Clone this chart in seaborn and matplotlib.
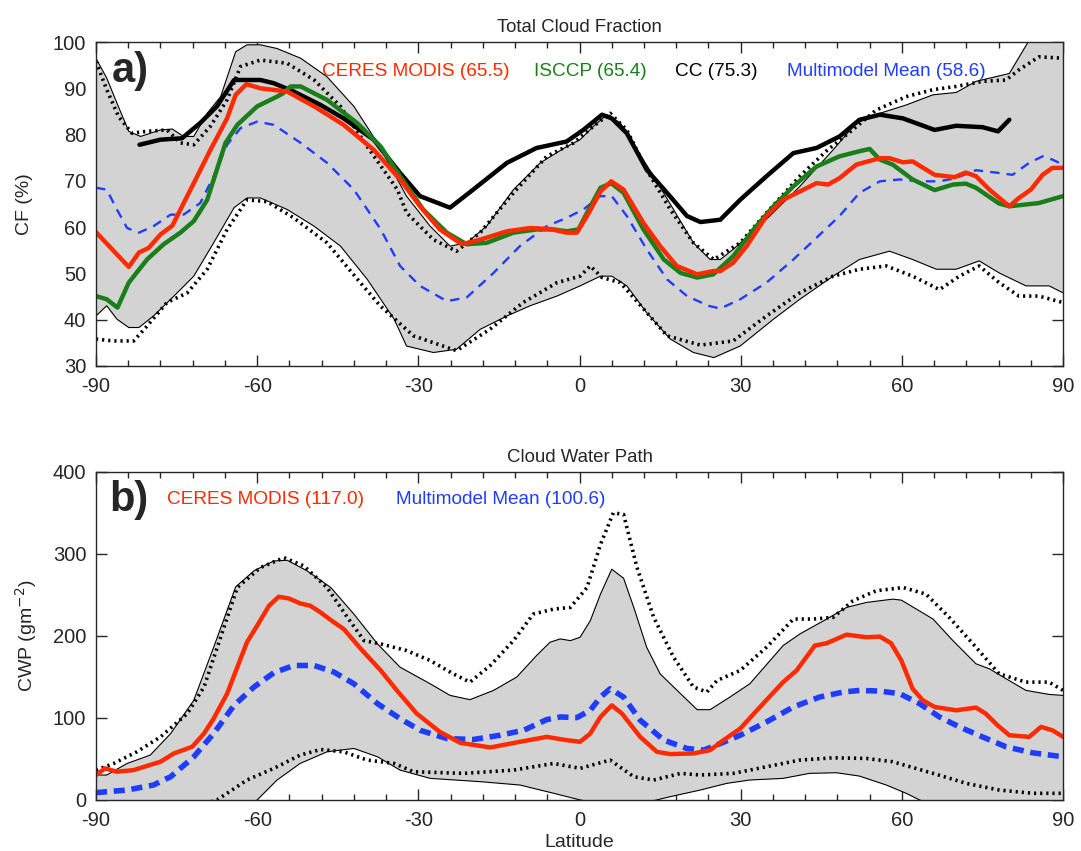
import seaborn as sns
import matplotlib.pyplot as plt

# ---------------- panel a: total cloud fraction (%) ----------------
cc_lat = [-81.9, -78.0, -74.0, -70.6, -67.5, -64.3, -59.4, -56.9, -53.2, -48.2, -43.9, -38.3, -33.4,
          -29.7, -24.1, -19.8, -13.5, -8.0, -2.4, 0.7, 4.2, 6.0, 8.8, 12.5, 16.3, 20.0, 22.5, 26.2,
          29.9, 34.8, 39.8, 44.1, 48.4, 52.1, 55.9, 60.2, 66.1, 70.1, 75.0, 77.9, 80.0]
cc_val = [77.8, 78.9, 79.2, 82.5, 86.1, 91.8, 91.8, 91.1, 89.3, 86.4, 83.5, 78.9, 71.7,
          66.7, 64.2, 68.1, 73.9, 77.1, 78.5, 81.0, 84.3, 83.5, 80.3, 72.4, 67.4, 62.4, 61.1, 61.6,
          65.9, 71.0, 76.0, 77.1, 79.6, 83.2, 84.3, 83.5, 81.0, 81.9, 81.6, 80.7, 83.2]

ceres_lat = [-90, -83.9, -82.0, -80.2, -78.0, -75.8, -71.8, -68.7, -65.6, -64.0, -62.0, -59.4, -54.4,
             -49.4, -43.9, -38.3, -33.4, -29.7, -26.0, -21.9, -18.5, -13.5, -9.2, -5.5, -2.4, -0.5,
             1.4, 3.9, 5.9, 8.2, 11.9, 15.0, 18.1, 21.9, 24.9, 26.2, 28.6, 31.1, 34.8, 37.9, 41.0,
             44.1, 46.3, 48.4, 51.5, 55.9, 57.7, 60.2, 62.0, 66.1, 69.8, 71.9, 73.8, 76.3, 80.0,
             81.8, 84.0, 86.2, 88.0, 90]
ceres_val = [58.9, 51.4, 54.5, 55.5, 58.4, 60.3, 69.5, 76.7, 83.5, 88.6, 90.9, 90.0, 89.3,
             86.1, 82.1, 76.7, 70.3, 64.5, 59.5, 56.3, 57.3, 59.1, 59.8, 59.6, 58.8, 58.8,
             62.4, 67.7, 69.9, 68.1, 60.9, 55.9, 51.6, 49.8, 50.5, 50.5, 52.3, 55.9, 62.4, 65.9, 67.7,
             69.5, 69.2, 70.6, 73.5, 74.9, 74.9, 74.0, 74.2, 71.3, 70.8, 71.8, 71.0, 68.1, 64.5,
             66.3, 68.1, 71.3, 72.8, 72.8]

isccp_lat = [-90, -88.0, -86.0, -83.9, -80.5, -77.4, -74.3, -71.8, -69.3, -65.9, -63.7, -60.0, -56.3,
             -55.2, -53.8, -51.9, -47.0, -41.4, -37.0, -33.4, -29.1, -24.7, -21.0, -17.3, -12.3,
             -8.0, -4.8, -2.4, -0.2, 1.4, 3.9, 5.9, 8.2, 11.9, 15.7, 18.8, 21.9, 24.9, 28.6, 32.4,
             36.1, 39.8, 44.1, 48.4, 52.1, 54.0, 55.9, 58.3, 62.0, 66.1, 69.5, 71.9, 73.8, 78.1,
             80.0, 85.5, 90]
isccp_val = [45.1, 44.4, 42.6, 48.0, 53.0, 56.3, 58.8, 61.3, 65.9, 78.2, 82.1, 86.1, 88.2,
             88.9, 90.4, 90.4, 87.5, 82.5, 77.4, 71.0, 63.8, 58.8, 56.3, 56.6, 58.8,
             59.5, 59.5, 59.1, 59.5, 63.1, 68.5, 69.5, 67.4, 59.5, 53.0, 50.1, 49.1, 49.8, 53.7, 59.5,
             64.5, 68.8, 73.1, 75.3, 76.4, 76.9, 74.6, 73.5, 70.3, 68.0, 69.2, 69.4, 68.5, 65.1,
             64.5, 65.2, 66.7]

mmm_lat = [-90, -88.0, -86.1, -84.2, -82.0, -79.3, -76.1, -73.7, -70.6, -68.1, -65.6, -63.1, -60.0,
           -56.9, -51.9, -47.0, -42.0, -37.0, -33.4, -29.7, -24.7, -21.0, -16.0, -11.1, -6.1, -2.4,
           0.7, 3.9, 6.0, 8.8, 12.5, 16.3, 20.0, 24.0, 26.2, 29.9, 34.8, 39.8, 44.1, 48.4, 52.1,
           55.9, 59.6, 63.3, 67.0, 70.1, 73.8, 78.1, 80.6, 83.7, 86.2, 88.0, 90]
mmm_val = [68.5, 68.1, 63.8, 59.8, 58.8, 60.2, 62.7, 62.7, 65.2, 71.0, 77.8, 81.4, 82.8,
           82.1, 78.2, 73.9, 68.1, 59.5, 51.6, 47.3, 44.0, 44.8, 50.1, 55.9, 60.2, 62.0,
           63.8, 66.7, 66.7, 62.4, 55.2, 48.7, 45.1, 43.0, 42.4, 44.4, 48.0, 53.0, 57.7, 62.4, 67.4,
           69.9, 70.3, 69.9, 69.9, 70.6, 72.3, 71.7, 71.3, 73.9, 75.3, 74.6, 73.5]

# model spread: thin solid envelope (shaded) and dotted envelope
a_hi_lat = [-90, -88.0, -86.1, -83.9, -81.7, -78.0, -75.8, -73.7, -71.8, -69.3, -66.8, -64.0, -61.9,
            -59.4, -56.3, -51.9, -47.0, -42.0, -37.6, -32.2, -27.8, -24.1, -21.0, -17.3, -12.3,
            -7.3, -2.4, 0.1, 2.6, 5.1, 7.6, 10.7, 13.8, 17.5, 21.2, 24.3, 26.2, 28.6, 34.8, 41.0,
            47.2, 51.5, 55.9, 60.8, 65.8, 70.1, 73.8, 80.0, 83.7, 90]
a_hi_val = [96.5, 92.2, 86.8, 80.7, 79.6, 81.0, 81.2, 79.6, 79.6, 84.6, 88.2, 97.9, 99.4,
            99.4, 98.6, 96.5, 92.5, 86.1, 78.2, 66.7, 60.2, 55.9, 56.6, 60.2, 68.1,
            73.9, 77.4, 78.9, 81.8, 84.3, 82.5, 76.7, 71.0, 63.8, 56.6, 53.0, 53.0, 55.2, 61.7, 68.8,
            76.7, 82.5, 84.6, 86.4, 88.6, 89.1, 91.5, 93.2, 100.4, 110.0]
a_lo_lat = [-90, -88.0, -86.1, -83.9, -82.0, -79.3, -76.1, -71.8, -68.1, -64.3, -61.9, -59.4, -54.4,
            -49.4, -44.5, -39.5, -34.5, -32.2, -27.2, -22.9, -18.5, -13.5, -9.2, -4.2, 0.1, 3.9,
            6.0, 8.8, 12.5, 16.9, 21.2, 25.0, 29.9, 36.1, 41.0, 47.2, 52.1, 57.7, 62.0, 66.4, 70.1,
            74.4, 78.1, 83.1, 87.4, 90]
a_lo_val = [40.8, 43.0, 40.1, 38.3, 38.3, 40.8, 44.4, 49.4, 56.6, 64.2, 66.3, 66.3, 63.8,
            60.2, 55.9, 48.7, 40.1, 34.3, 32.9, 33.6, 37.9, 40.8, 43.0, 45.1, 47.3, 49.4,
            49.4, 47.3, 41.5, 35.8, 32.9, 31.8, 34.3, 40.1, 44.4, 49.4, 53.0, 54.8, 53.0, 50.9, 50.9,
            52.7, 50.1, 47.3, 47.3, 45.8]
a_dhi_lat = [-90, -88.0, -85.8, -83.3, -80.5, -76.8, -74.3, -71.8, -68.7, -65.6, -63.1, -59.4, -54.4,
             -49.4, -44.5, -39.5, -33.9, -32.2, -27.2, -22.9, -18.5, -12.3, -6.1, -1.1, 2.6, 5.7,
             8.8, 12.5, 16.9, 21.2, 25.0, 29.9, 34.8, 41.0, 45.9, 50.8, 55.2, 60.8, 65.8, 70.1, 75.0,
             79.4, 81.8, 85.5, 90]
a_dhi_val = [95.8, 89.7, 83.9, 80.3, 80.7, 81.0, 78.2, 77.8, 81.8, 87.5, 94.7, 96.1, 95.4,
             91.8, 86.1, 77.4, 68.1, 63.1, 57.3, 54.8, 58.8, 67.4, 75.3, 78.2, 81.8, 84.6,
             81.0, 72.4, 63.8, 56.6, 53.0, 56.6, 63.1, 71.0, 76.4, 81.0, 85.3, 88.2, 89.7, 90.4, 91.5,
             91.8, 94.0, 96.8, 96.5]
a_dlo_lat = [-90, -86.7, -83.0, -80.5, -76.8, -73.0, -69.3, -65.6, -61.9, -58.1, -53.2, -47.0, -40.8,
             -37.1, -30.9, -22.9, -16.7, -10.5, -4.2, 0.1, 2.0, 4.2, 7.6, 11.4, 16.3, 22.5, 28.6,
             34.8, 41.0, 47.2, 52.1, 57.1, 62.0, 67.0, 70.7, 74.4, 78.1, 81.8, 85.5, 90]
a_dlo_val = [35.8, 35.4, 35.4, 38.6, 43.7, 45.8, 50.9, 59.5, 65.9, 65.5, 62.0, 56.6, 48.0,
             43.0, 36.5, 33.3, 37.9, 43.7, 48.0, 49.4, 51.6, 49.1, 48.0, 43.0, 36.5, 34.5, 35.4,
             40.8, 45.8, 49.4, 50.9, 51.6, 49.4, 46.5, 49.4, 51.6, 48.0, 45.1, 45.1, 43.7]

# ---------------- panel b: cloud water path (g m-2) ----------------
cwp_lat = [-90, -88.3, -86.1, -83.0, -78.0, -75.5, -72.1, -69.9, -68.1, -65.6, -61.9, -60.0, -57.8,
           -56.0, -54.1, -52.0, -50.1, -48.2, -46.3, -43.9, -40.7, -37.0, -34.0, -30.3, -26.0,
           -22.2, -16.6, -11.1, -6.1, -2.4, 0.1, 2.0, 3.9, 6.0, 7.9, 11.3, 14.4, 16.9, 21.2, 24.3,
           26.8, 29.9, 33.6, 37.9, 40.4, 43.8, 46.0, 49.7, 53.4, 55.9, 58.0, 59.9, 62.0, 63.9,
           66.1, 70.1, 73.8, 75.6, 77.8, 80.0, 83.7, 85.9, 88.0, 90]
cwp_val = [30.4, 38.5, 34.4, 36.4, 46.6, 56.7, 64.8, 81.0, 99.2, 129.6, 192.3, 212.6, 236.8,
           247.8, 245.7, 239.7, 236.8, 228.7, 219.4, 208.5, 184.2, 157.9, 133.6, 105.3, 83.0,
           69.6, 64.0, 70.9, 76.9, 72.9, 70.9, 81.0, 101.2, 115.4, 105.3, 76.9, 58.7, 55.9, 56.7, 60.7,
           72.9, 87.0, 113.4, 143.7, 157.9, 188.3, 191.1, 201.6, 198.4, 199.2, 191.1, 170.0, 135.6, 121.5,
           113.4, 109.3, 112.6, 105.3, 91.1, 78.9, 76.9, 89.1, 85.0, 76.9]

mmm_b_lat = [-90, -84.2, -79.3, -76.1, -71.8, -68.1, -64.3, -60.6, -56.9, -53.2, -49.4, -45.7, -42.0,
             -37.6, -33.4, -29.7, -24.7, -19.8, -14.8, -10.4, -6.1, -3.6, -0.5, 2.0, 3.9, 5.7, 8.2,
             11.3, 15.7, 20.0, 23.1, 26.2, 29.9, 34.8, 39.8, 44.7, 49.1, 52.1, 55.9, 59.6, 63.3,
             67.0, 70.7, 75.0, 79.4, 84.3, 90]
mmm_b_val = [8.9, 12.1, 18.2, 28.3, 52.6, 81.0, 115.4, 137.7, 155.1, 164.0, 164.0, 155.9, 141.7,
             117.4, 99.2, 85.0, 74.9, 73.7, 78.9, 85.0, 98.0, 101.2, 100.4, 109.3, 125.5, 135.6, 125.5,
             97.2, 72.9, 62.8, 60.7, 68.8, 78.9, 95.1, 113.4, 125.5, 131.6, 133.6, 132.8, 129.6, 117.4,
             101.2, 89.1, 76.9, 64.8, 57.5, 52.6]

b_hi_lat = [-90, -88.0, -84.2, -79.9, -76.1, -71.8, -68.1, -64.0, -60.6, -56.9, -54.4, -50.7, -46.3,
            -42.0, -37.6, -33.4, -27.8, -24.1, -20.4, -16.0, -11.7, -8.0, -5.5, -3.6, -1.7, 0.1,
            2.0, 3.9, 6.0, 8.2, 10.1, 12.5, 15.0, 18.8, 21.9, 24.3, 28.0, 31.7, 37.9, 41.0, 46.0,
            49.7, 53.4, 58.3, 59.9, 62.7, 65.8, 69.5, 73.8, 76.3, 79.4, 83.1, 87.4, 90]
b_hi_val = [30.4, 30.4, 44.5, 54.7, 81.0, 121.5, 186.2, 259.9, 279.4, 291.5, 292.3, 279.4, 259.1,
            226.7, 190.3, 161.9, 141.7, 127.5, 122.3, 133.6, 149.8, 176.1, 192.3, 196.4, 194.3, 198.4,
            218.6, 251.0, 281.4, 270.4, 234.8, 186.2, 153.8, 129.6, 110.1, 110.1, 125.5, 141.7, 188.3,
            202.4, 220.6, 234.8, 240.9, 244.9, 243.7, 232.8, 220.6, 194.3, 166.0, 159.9, 147.8, 133.6,
            128.7, 127.5]
b_lo_lat = [-90, -75.0, -66.0, -60.0, -56.3, -52.0, -47.0, -42.0, -37.6, -33.4, -27.8, -18.5, -11.1,
            -4.8, 0.1, 8.0, 16.9, 22.5, 27.4, 31.7, 37.9, 42.8, 47.8, 52.1, 57.1, 60.8, 63.3, 70.0, 90]
b_lo_val = [-30.0, -40.0, -20.0, 0.0, 24.3, 44.5, 58.7, 62.8, 52.6, 36.4, 26.3, 22.3, 18.2,
            8.1, 0.0, -10.0, 4.0, 12.1, 20.2, 24.3, 26.3, 32.4, 33.2, 29.1, 18.2, 8.1, 0.0, -15.0, -30.0]
b_dhi_lat = [-90, -86.7, -82.4, -78.0, -73.0, -69.9, -66.8, -63.7, -59.4, -55.0, -51.3, -47.0, -43.2,
             -40.1, -37.0, -32.2, -27.8, -23.5, -20.4, -16.6, -12.3, -8.6, -4.8, -1.7, 1.4, 3.9, 6.3,
             8.2, 10.7, 13.8, 17.5, 21.2, 23.7, 25.6, 29.9, 34.8, 39.8, 43.5, 47.2, 50.9, 55.2, 60.2,
             64.5, 68.8, 73.8, 78.1, 83.1, 87.4, 90]
b_dhi_val = [36.4, 44.5, 58.7, 76.9, 105.3, 137.7, 198.4, 259.1, 283.4, 295.5, 285.4, 259.1, 222.7,
             194.3, 190.3, 182.2, 170.0, 153.8, 143.7, 164.0, 194.3, 226.7, 232.8, 234.8, 259.1, 311.7,
             350.2, 348.2, 283.4, 222.7, 174.1, 137.7, 131.6, 145.7, 157.9, 186.2, 220.6, 220.6, 222.7,
             242.9, 255.1, 259.1, 251.0, 222.7, 186.2, 153.8, 143.7, 143.7, 133.6]
b_dlo_lat = [-90, -75.0, -67.5, -65.6, -61.9, -56.9, -52.0, -48.2, -43.9, -39.5, -34.5, -30.9, -21.6,
             -12.3, -4.8, 0.1, 5.7, 10.1, 13.8, 18.8, 22.5, 28.6, 34.8, 41.0, 47.2, 53.4, 58.3, 65.8,
             72.0, 78.1, 84.3, 90]
b_dlo_val = [-20.0, -15.0, 0.0, 8.1, 24.3, 38.5, 54.7, 61.5, 58.7, 48.6, 44.5, 34.4, 32.4,
             36.4, 44.5, 38.5, 48.6, 28.3, 24.3, 32.4, 30.4, 32.4, 40.5, 48.6, 51.4, 50.6, 46.6, 32.4,
             20.2, 12.1, 8.1, 8.1]

RED = "#ff2a00"
GREEN = "#1a7f1a"
BLUE = "#1f3dff"
DOT = (0, (0.6, 1.1))

sns.set_style("ticks")
plt.rcParams["font.family"] = ["Liberation Sans", "DejaVu Sans"]
plt.rcParams["axes.unicode_minus"] = False

fig = plt.figure(figsize=(10.81, 8.51), dpi=100)
ax1 = fig.add_axes([0.0888, 0.570, 0.8946, 0.3806])
ax2 = fig.add_axes([0.0888, 0.060, 0.8946, 0.3854])


def band(ax, hlat, hval, llat, lval):
    ax.fill(list(hlat) + list(llat[::-1]), list(hval) + list(lval[::-1]),
            facecolor="#d3d3d3", edgecolor="none", zorder=1)
    ax.plot(hlat, hval, color="black", lw=0.8, zorder=2)
    ax.plot(llat, lval, color="black", lw=0.8, zorder=2)


# panel a
band(ax1, a_hi_lat, a_hi_val, a_lo_lat, a_lo_val)
sns.lineplot(x=a_dhi_lat, y=a_dhi_val, ax=ax1, color="black", lw=2.6, linestyle=DOT, sort=False, zorder=3)
sns.lineplot(x=a_dlo_lat, y=a_dlo_val, ax=ax1, color="black", lw=2.6, linestyle=DOT, sort=False, zorder=3)
sns.lineplot(x=mmm_lat, y=mmm_val, ax=ax1, color=BLUE, lw=1.7, linestyle=(0, (4, 3)), sort=False, zorder=4)
sns.lineplot(x=cc_lat, y=cc_val, ax=ax1, color="black", lw=3.2, sort=False, zorder=5)
sns.lineplot(x=isccp_lat, y=isccp_val, ax=ax1, color=GREEN, lw=3.2, sort=False, zorder=5)
sns.lineplot(x=ceres_lat, y=ceres_val, ax=ax1, color=RED, lw=3.2, sort=False, zorder=6)

ax1.set_xlim(-90, 90)
ax1.set_ylim(30, 100)
ax1.set_yticks(range(30, 101, 10))
ax1.set_ylabel("CF (%)", fontsize=14, labelpad=14)
ax1.set_title("Total Cloud Fraction", fontsize=13.4, pad=7)
ax1.text(0.016, 0.91, "a)", transform=ax1.transAxes, fontsize=30, fontweight="bold", va="center")
for x, s, c in [(0.331, "CERES MODIS (65.5)", RED), (0.511, "ISCCP (65.4)", GREEN),
                (0.641, "CC (75.3)", "black"), (0.817, "Multimodel Mean (58.6)", BLUE)]:
    ax1.text(x, 0.91, s, transform=ax1.transAxes, color=c, fontsize=13.7, ha="center", va="center")

# panel b
band(ax2, b_hi_lat, b_hi_val, b_lo_lat, b_lo_val)
sns.lineplot(x=b_dhi_lat, y=b_dhi_val, ax=ax2, color="black", lw=2.6, linestyle=DOT, sort=False, zorder=3)
sns.lineplot(x=b_dlo_lat, y=b_dlo_val, ax=ax2, color="black", lw=2.6, linestyle=DOT, sort=False, zorder=3)
sns.lineplot(x=mmm_b_lat, y=mmm_b_val, ax=ax2, color=BLUE, lw=4, linestyle=(0, (2, 1.2)), sort=False, zorder=4)
sns.lineplot(x=cwp_lat, y=cwp_val, ax=ax2, color=RED, lw=3.2, sort=False, zorder=6)

ax2.set_xlim(-90, 90)
ax2.set_ylim(0, 400)
ax2.set_yticks(range(0, 401, 100))
ax2.set_ylabel("CWP (gm$^{-2}$)", fontsize=14, labelpad=10)
ax2.set_xlabel("Latitude", fontsize=14, labelpad=3)
ax2.set_title("Cloud Water Path", fontsize=13.4, pad=7)
ax2.text(0.014, 0.915, "b)", transform=ax2.transAxes, fontsize=30, fontweight="bold", va="center")
ax2.text(0.175, 0.915, "CERES MODIS (117.0)", transform=ax2.transAxes, color=RED, fontsize=13.7,
         ha="center", va="center")
ax2.text(0.418, 0.915, "Multimodel Mean (100.6)", transform=ax2.transAxes, color=BLUE, fontsize=13.7,
         ha="center", va="center")

for ax in (ax1, ax2):
    ax.set_xticks(range(-90, 91, 30))
    ax.set_xticks(range(-90, 91, 6), minor=True)
    ax.tick_params(axis="both", which="both", direction="in", top=True, right=True, labelsize=14.5)
    ax.tick_params(which="major", length=8, width=1)
    ax.tick_params(which="minor", length=4.5, width=1)
    ax.tick_params(axis="x", which="major", pad=8)
    ax.tick_params(axis="y", which="major", pad=7)
    for sp in ax.spines.values():
        sp.set_linewidth(1)
        sp.set_visible(True)
        sp.set_zorder(10)

fig.savefig("out.png", dpi=100)
